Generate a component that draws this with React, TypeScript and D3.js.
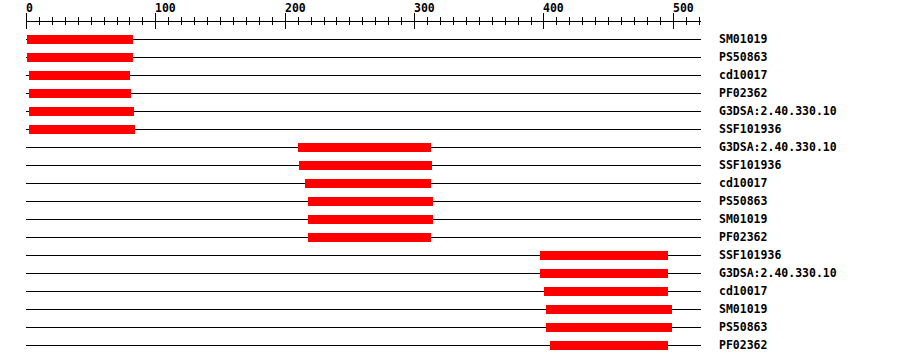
import React from "react";
import * as d3 from "d3";

const labels = [
  "SM01019", "PS50863", "cd10017", "PF02362", "G3DSA:2.40.330.10", "SSF101936",
  "G3DSA:2.40.330.10", "SSF101936", "cd10017", "PS50863", "SM01019", "PF02362",
  "SSF101936", "G3DSA:2.40.330.10", "cd10017", "SM01019", "PS50863", "PF02362",
];
const starts = [1, 1, 2.3, 2.3, 2.3, 2.3, 210.2, 211, 215.7, 218, 218, 218, 397.3, 397.3, 400.4, 402, 402, 405];
const ends = [83, 83, 80.4, 81.2, 83.5, 84.3, 313, 313.8, 313, 314.6, 314.6, 313, 496.2, 496.2, 496.2, 499.3, 499.3, 496.2];
const seqLength = 521;
const majorTicks = [0, 100, 200, 300, 400, 500];

export default function App() {
  const x = d3.scaleLinear().domain([0, seqLength]).range([26, 700]);
  const y = (i: number) => 39 + 18 * i;
  const minorTicks = d3.range(0, seqLength + 1, 10).filter((t) => t % 100 !== 0);
  const font = "'DejaVu Sans Mono', 'Liberation Mono', monospace";
  return (
    <svg
      width={900}
      height={364}
      style={{ position: "absolute", left: 0, top: 0, background: "#fff" }}
      shapeRendering="crispEdges"
    >
      <rect x={0} y={0} width={900} height={364} fill="#fff" />
      {/* axis */}
      <line x1={x(0)} x2={x(seqLength) + 1} y1={21.5} y2={21.5} stroke="#000" strokeWidth={1} />
      {minorTicks.map((t) => (
        <line key={"m" + t} x1={Math.round(x(t)) + 0.5} x2={Math.round(x(t)) + 0.5} y1={17} y2={25} stroke="#000" />
      ))}
      {majorTicks.map((t) => (
        <g key={"M" + t}>
          <line x1={Math.round(x(t)) + 0.5} x2={Math.round(x(t)) + 0.5} y1={13} y2={29} stroke="#000" />
          <text x={Math.round(x(t))} y={12} fontFamily={font} fontWeight="bold" fontSize={11.5} fill="#000">
            {t}
          </text>
        </g>
      ))}
      {labels.map((lab, i) => (
        <g key={i}>
          <line x1={x(0)} x2={x(seqLength) + 1} y1={y(i) + 0.5} y2={y(i) + 0.5} stroke="#000" />
          <rect
            x={Math.round(x(starts[i]))}
            y={y(i) - 4}
            width={Math.round(x(ends[i])) - Math.round(x(starts[i]))}
            height={9}
            fill="#ff0000"
          />
          <text x={719} y={y(i) + 4} fontFamily={font} fontWeight="bold" fontSize={11.5} fill="#000">
            {lab}
          </text>
        </g>
      ))}
    </svg>
  );
}
